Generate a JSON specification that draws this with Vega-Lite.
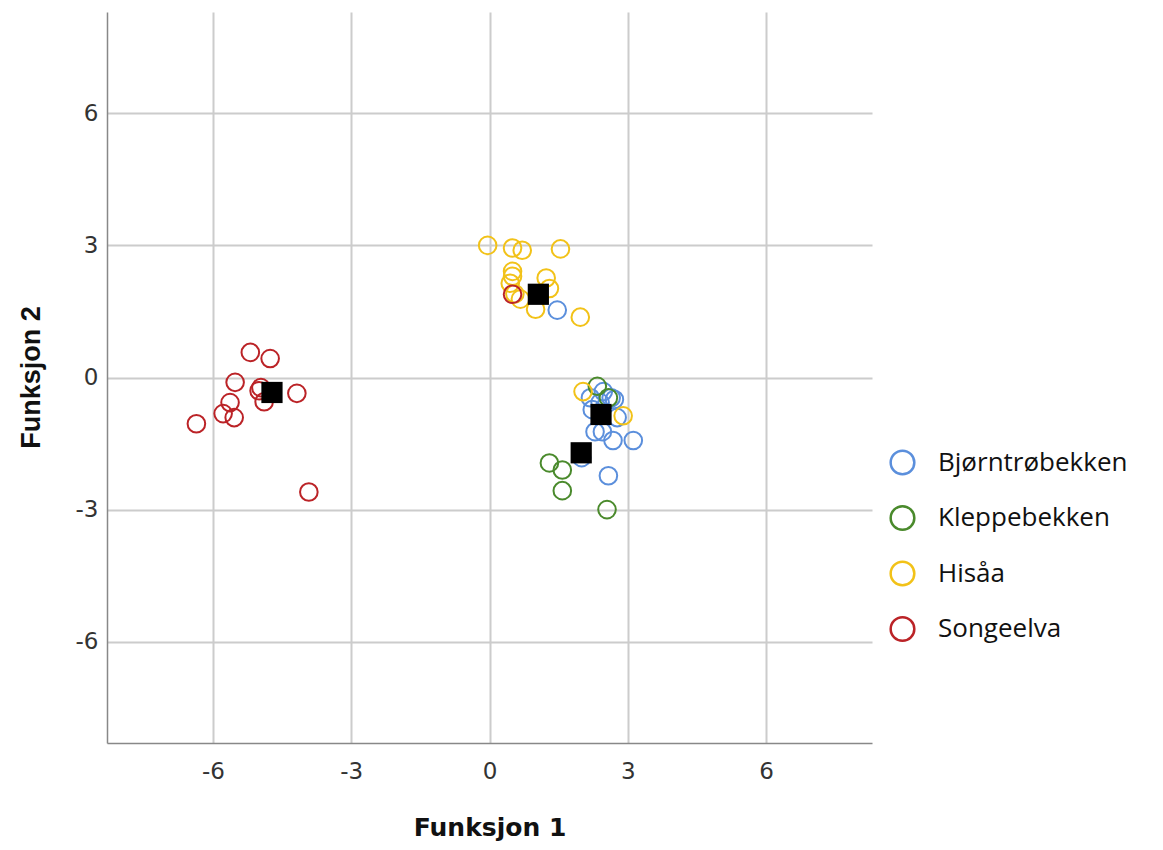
{
  "$schema": "https://vega.github.io/schema/vega-lite/v6.json",
  "width": 765,
  "height": 731,
  "autosize": {"type": "none"},
  "padding": {"left": 107, "top": 12, "right": 291, "bottom": 107},
  "background": "white",
  "config": {
    "view": {"stroke": null},
    "axis": {
      "labelFont": "DejaVu Sans",
      "labelFontSize": 23,
      "labelColor": "#333",
      "labelExpr": "replace(datum.label, '−', '-')",
      "titleFont": "Liberation Sans",
      "titleFontSize": 27,
      "titleFontWeight": "bold",
      "titleColor": "#111",
      "gridColor": "#cccccc",
      "gridWidth": 2,
      "domainColor": "#888888",
      "domainWidth": 1.5,
      "ticks": false,
      "tickSize": 0
    }
  },
  "datasets": {
    "cases": [
      {"gruppe": "Bjørntrøbekken", "f1": 1.47, "f2": 1.53},
      {"gruppe": "Bjørntrøbekken", "f1": 2.0, "f2": -1.82},
      {"gruppe": "Bjørntrøbekken", "f1": 3.12, "f2": -1.43},
      {"gruppe": "Bjørntrøbekken", "f1": 2.68, "f2": -1.43},
      {"gruppe": "Bjørntrøbekken", "f1": 2.29, "f2": -1.23},
      {"gruppe": "Bjørntrøbekken", "f1": 2.45, "f2": -1.23},
      {"gruppe": "Bjørntrøbekken", "f1": 2.77, "f2": -0.91},
      {"gruppe": "Bjørntrøbekken", "f1": 2.23, "f2": -0.73},
      {"gruppe": "Bjørntrøbekken", "f1": 2.47, "f2": -0.32},
      {"gruppe": "Bjørntrøbekken", "f1": 2.64, "f2": -0.46},
      {"gruppe": "Bjørntrøbekken", "f1": 2.71, "f2": -0.5},
      {"gruppe": "Bjørntrøbekken", "f1": 2.19, "f2": -0.46},
      {"gruppe": "Bjørntrøbekken", "f1": 2.4, "f2": -0.57},
      {"gruppe": "Bjørntrøbekken", "f1": 2.58, "f2": -2.23},
      {"gruppe": "Kleppebekken", "f1": 1.3, "f2": -1.94},
      {"gruppe": "Kleppebekken", "f1": 1.58, "f2": -2.1},
      {"gruppe": "Kleppebekken", "f1": 1.58, "f2": -2.57},
      {"gruppe": "Kleppebekken", "f1": 2.55, "f2": -3.0},
      {"gruppe": "Kleppebekken", "f1": 2.34, "f2": -0.2},
      {"gruppe": "Kleppebekken", "f1": 2.58, "f2": -0.46},
      {"gruppe": "Hisåa", "f1": -0.04, "f2": 3.0},
      {"gruppe": "Hisåa", "f1": 0.5, "f2": 2.94},
      {"gruppe": "Hisåa", "f1": 0.71, "f2": 2.89},
      {"gruppe": "Hisåa", "f1": 1.54, "f2": 2.92},
      {"gruppe": "Hisåa", "f1": 0.5, "f2": 2.41},
      {"gruppe": "Hisåa", "f1": 0.5, "f2": 2.3},
      {"gruppe": "Hisåa", "f1": 0.45, "f2": 2.14},
      {"gruppe": "Hisåa", "f1": 1.23, "f2": 2.26},
      {"gruppe": "Hisåa", "f1": 1.3, "f2": 2.02},
      {"gruppe": "Hisåa", "f1": 0.55, "f2": 1.9},
      {"gruppe": "Hisåa", "f1": 0.67, "f2": 1.78},
      {"gruppe": "Hisåa", "f1": 1.0, "f2": 1.55},
      {"gruppe": "Hisåa", "f1": 1.97, "f2": 1.37},
      {"gruppe": "Hisåa", "f1": 2.03, "f2": -0.32},
      {"gruppe": "Hisåa", "f1": 2.9, "f2": -0.87},
      {"gruppe": "Songeelva", "f1": -5.19, "f2": 0.57},
      {"gruppe": "Songeelva", "f1": -4.76, "f2": 0.43},
      {"gruppe": "Songeelva", "f1": -5.52, "f2": -0.11},
      {"gruppe": "Songeelva", "f1": -4.96, "f2": -0.23},
      {"gruppe": "Songeelva", "f1": -5.0, "f2": -0.3},
      {"gruppe": "Songeelva", "f1": -4.89, "f2": -0.55},
      {"gruppe": "Songeelva", "f1": -5.63, "f2": -0.57},
      {"gruppe": "Songeelva", "f1": -5.78, "f2": -0.82},
      {"gruppe": "Songeelva", "f1": -5.54, "f2": -0.91},
      {"gruppe": "Songeelva", "f1": -6.36, "f2": -1.05},
      {"gruppe": "Songeelva", "f1": -4.18, "f2": -0.36},
      {"gruppe": "Songeelva", "f1": -3.92, "f2": -2.6},
      {"gruppe": "Songeelva", "f1": 0.5, "f2": 1.89}
    ],
    "centroids": [
      {"gruppe": "Bjørntrøbekken", "f1": 2.42, "f2": -0.84},
      {"gruppe": "Kleppebekken", "f1": 1.99, "f2": -1.71},
      {"gruppe": "Hisåa", "f1": 1.06, "f2": 1.89},
      {"gruppe": "Songeelva", "f1": -4.72, "f2": -0.34}
    ]
  },
  "layer": [
    {
      "data": {"name": "cases"},
      "mark": {"type": "point", "shape": "circle", "filled": false, "size": 310, "strokeWidth": 2, "opacity": 1},
      "encoding": {
        "x": {
          "field": "f1", "type": "quantitative",
          "scale": {"domain": [-8.3, 8.3], "nice": false, "zero": false},
          "axis": {"values": [-6, -3, 0, 3, 6], "title": "Funksjon 1", "titleFont": "DejaVu Sans", "titleFontSize": 25, "labelPadding": 17, "titleY": 72, "titleBaseline": "top"}
        },
        "y": {
          "field": "f2", "type": "quantitative",
          "scale": {"domain": [-8.3, 8.3], "nice": false, "zero": false},
          "axis": {"values": [-6, -3, 0, 3, 6], "title": "Funksjon 2", "labelPadding": 9, "titleX": -62, "titleY": 365}
        },
        "color": {
          "field": "gruppe", "type": "nominal",
          "scale": {
            "domain": ["Bjørntrøbekken", "Kleppebekken", "Hisåa", "Songeelva"],
            "range": ["#5b8fdc", "#4a8a2c", "#f2c218", "#bb2327"]
          },
          "legend": {
            "title": null,
            "orient": "none",
            "legendX": 782,
            "legendY": 437,
            "padding": 0,
            "symbolSize": 560,
            "symbolStrokeWidth": 2.5,
            "symbolType": "circle",
            "labelFont": "Open Sans",
            "labelFontSize": 26,
            "labelColor": "#111",
            "labelOffset": 22,
            "labelLimit": 400,
            "rowPadding": 20.5
          }
        }
      }
    },
    {
      "data": {"name": "centroids"},
      "mark": {"type": "square", "color": "black", "size": 450, "opacity": 1},
      "encoding": {
        "x": {"field": "f1", "type": "quantitative"},
        "y": {"field": "f2", "type": "quantitative"}
      }
    }
  ]
}
